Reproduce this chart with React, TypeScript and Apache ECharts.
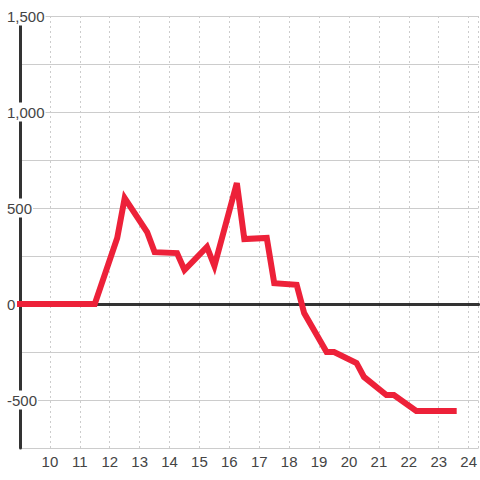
import React, { useEffect, useRef } from "react";
import * as echarts from "echarts";

const xValues = [9, 11.5, 12.25, 12.5, 13.25, 13.5, 14.25, 14.5, 15.25, 15.5, 16.25, 16.5, 17.25, 17.5, 18.25, 18.5, 19.25, 19.5, 20.25, 20.5, 21.25, 21.5, 22.25, 22.5, 23.5];
const yValues = [0, 0, 344, 552, 375, 270, 265, 177, 297, 198, 630, 338, 344, 108, 100, -47, -250, -250, -307, -380, -474, -474, -557, -557, -557];
const yLabelStep = 500;

export default function App() {
  const ref = useRef<HTMLDivElement>(null);
  useEffect(() => {
    if (!ref.current) return;
    const chart = echarts.init(ref.current, null, { renderer: "svg" });
    const fontFamily = "'Liberation Sans', Arial, sans-serif";
    chart.setOption({
      animation: false,
      backgroundColor: "#ffffff",
      grid: { left: 20, right: 0, top: 16, bottom: 32, containLabel: false },
      xAxis: [
        {
          type: "value",
          min: 9,
          max: 24.333,
          interval: 1,
          axisLine: { show: false, onZero: false },
          axisTick: { show: false },
          axisLabel: {
            color: "#444",
            fontSize: 15,
            fontFamily,
            margin: 6,
            showMinLabel: false,
            showMaxLabel: false,
          },
          splitLine: { show: true, lineStyle: { color: "#cccccc", type: [2, 3], width: 1 } },
        },
        {
          type: "value",
          min: 9,
          max: 24.333,
          position: "bottom",
          axisLine: { show: true, onZero: true, lineStyle: { color: "#333", width: 3 } },
          axisTick: { show: false },
          axisLabel: { show: false },
          splitLine: { show: false },
        },
      ],
      yAxis: {
        type: "value",
        min: -750,
        max: 1500,
        interval: 250,
        axisLine: { show: true, onZero: false, lineStyle: { color: "#333", width: 3 } },
        axisTick: { show: false },
        axisLabel: {
          color: "#444",
          fontSize: 15,
          fontFamily,
          margin: 14,
          align: "left",
          backgroundColor: "#ffffff",
          padding: [2, 1, 2, 1],
          formatter: (v: number) => {
            if (v % yLabelStep !== 0) return "";
            return v.toLocaleString("en-US");
          },
        },
        splitLine: { show: true, lineStyle: { color: "#cccccc", width: 1 } },
      },
      series: [
        {
          type: "line",
          xAxisIndex: 0,
          data: xValues.map((x, i) => [x, yValues[i]]),
          symbol: "none",
          lineStyle: { color: "#ed2139", width: 6, cap: "square", join: "miter" },
          z: 5,
        },
      ],
    });
    return () => chart.dispose();
  }, []);
  return <div ref={ref} style={{ position: "fixed", left: 0, top: 0, width: 480, height: 480 }} />;
}
